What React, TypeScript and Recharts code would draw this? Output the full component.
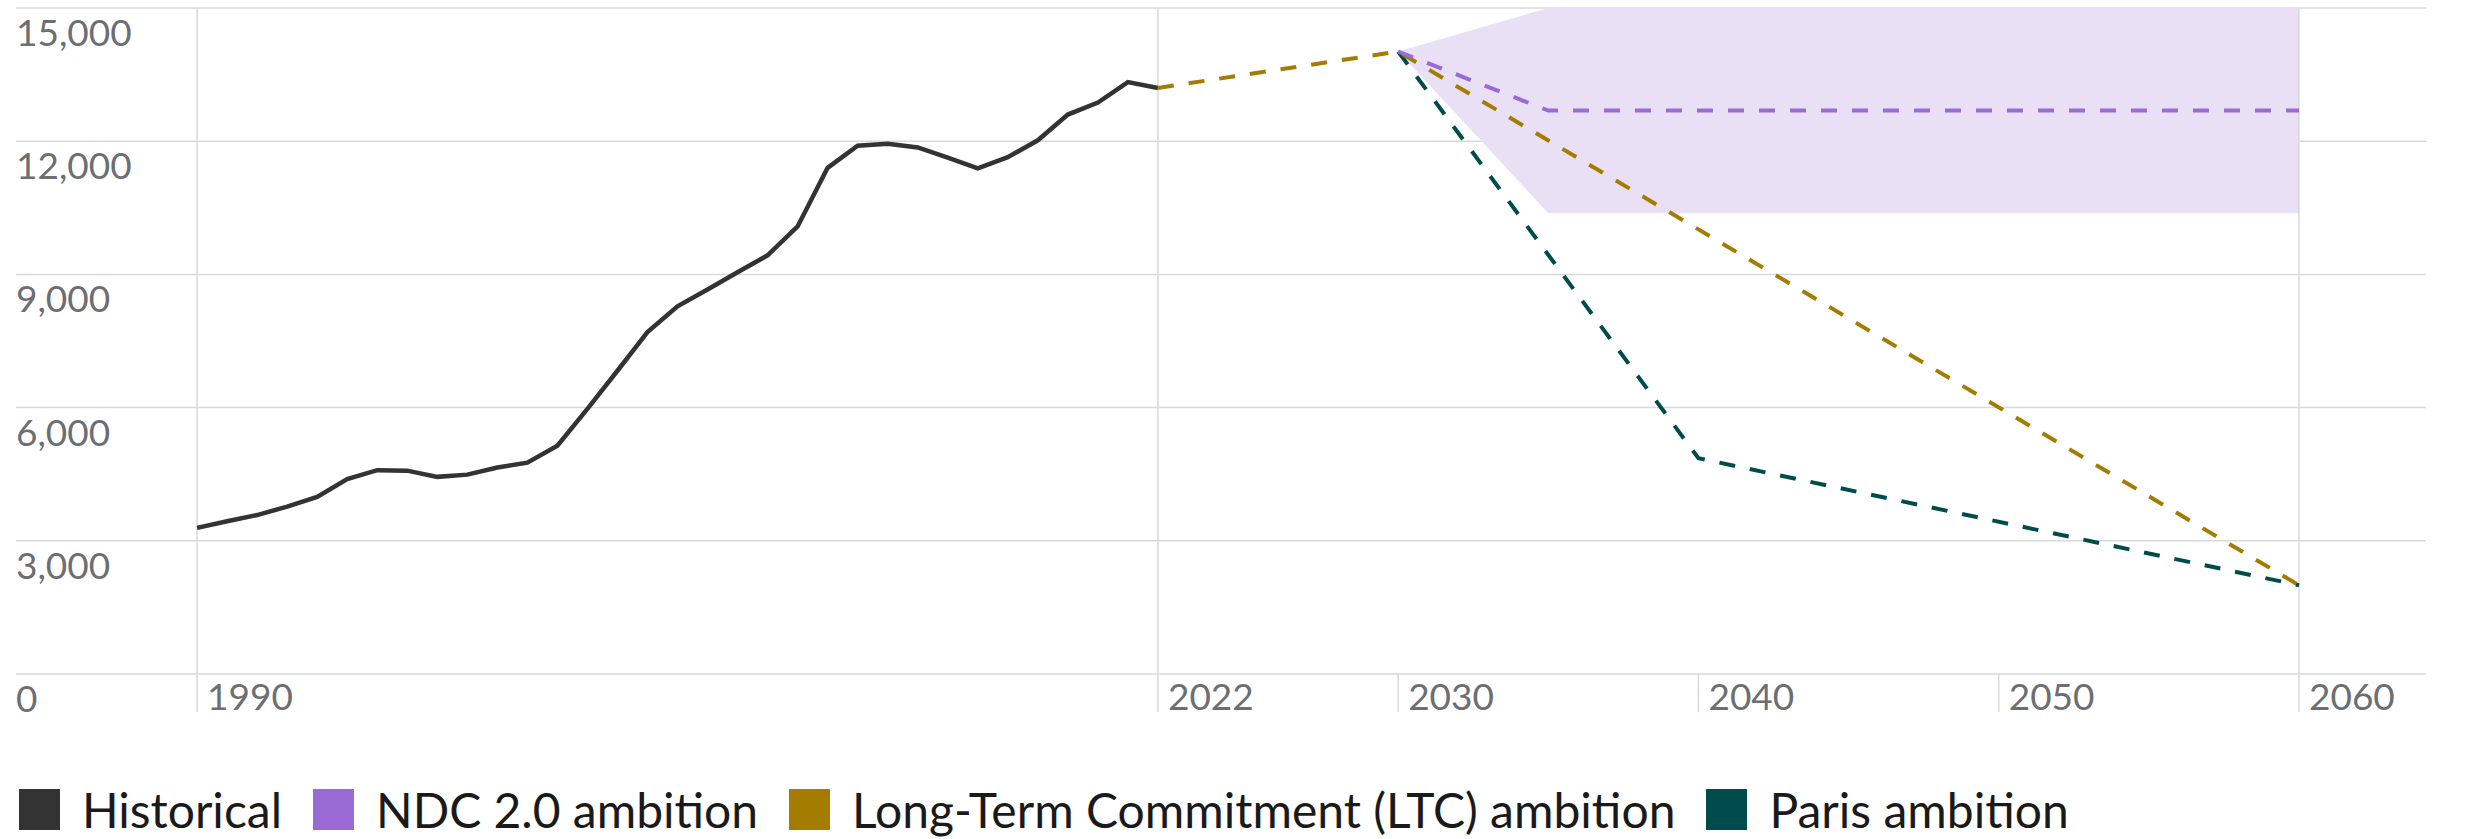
import {
  ComposedChart,
  Line,
  Area,
  XAxis,
  YAxis,
  CartesianGrid,
  ReferenceLine,
} from 'recharts';

// historical emissions, 1990-2022
const HIST_YEARS = [
  1990, 1991, 1992, 1993, 1994, 1995, 1996, 1997, 1998, 1999, 2000, 2001, 2002, 2003, 2004, 2005, 2006,
  2007, 2008, 2009, 2010, 2011, 2012, 2013, 2014, 2015, 2016, 2017, 2018, 2019, 2020, 2021, 2022,
];
const HIST_VALUES = [
  3290, 3440, 3580, 3770, 3990, 4390, 4590, 4580, 4440, 4490, 4650, 4760, 5140, 5970, 6830, 7700, 8280,
  8660, 9050, 9430, 10080, 11400, 11900, 11940, 11860, 11630, 11390, 11640, 12020, 12600, 12870, 13330,
  13200,
];

// pathways
const LTC_YEARS = [2022, 2030, 2060];
const LTC_VALUES = [13200, 14020, 2000];
const NDC_YEARS = [2030, 2035, 2060];
const NDC_VALUES = [14020, 12690, 12690];
const PARIS_YEARS = [2030, 2040, 2060];
const PARIS_VALUES = [14020, 4860, 2000];

// NDC 2.0 range
const BAND_YEARS = [2030, 2035, 2060];
const BAND_LOW = [14020, 10380, 10380];
const BAND_HIGH = [14020, 15000, 15000];

const X_TICKS = [1990, 2022, 2030, 2040, 2050, 2060];
const FULL_LINES = [1990, 2022, 2060];
const Y_TICKS = [0, 3000, 6000, 9000, 12000, 15000];

const HIST_COLOR = '#333333';
const NDC_COLOR = '#9a6bd4';
const LTC_COLOR = '#a37c00';
const PARIS_COLOR = '#004b4b';
const BAND_COLOR = '#e9e0f5';
const GRID = '#d9d9d9';
const LABEL = '#6b6f73';
const FONT = 'Lato, "Open Sans", sans-serif';

const toRows = (years: number[], values: number[]) => years.map((year, i) => ({ year, v: values[i] }));

const histData = toRows(HIST_YEARS, HIST_VALUES);
const ltcData = toRows(LTC_YEARS, LTC_VALUES);
const ndcData = toRows(NDC_YEARS, NDC_VALUES);
const parisData = toRows(PARIS_YEARS, PARIS_VALUES);
const bandData = BAND_YEARS.map((year, i) => ({ year, range: [BAND_LOW[i], BAND_HIGH[i]] }));

const LEGEND = [
  { label: 'Historical', color: HIST_COLOR },
  { label: 'NDC 2.0 ambition', color: NDC_COLOR },
  { label: 'Long-Term Commitment (LTC) ambition', color: LTC_COLOR },
  { label: 'Paris ambition', color: PARIS_COLOR },
];

function YearTick(props: any) {
  const { x, y, payload } = props;
  return (
    <g>
      <line x1={x} x2={x} y1={y} y2={y + 38} stroke={GRID} strokeWidth={1.5} />
      <text x={x + 10} y={y + 36} fill={LABEL} fontSize={37} fontFamily={FONT}>
        {payload.value}
      </text>
    </g>
  );
}

function ValueTick(props: any) {
  const { y, payload } = props;
  return (
    <text x={16} y={y + 38} fill={LABEL} fontSize={37} fontFamily={FONT}>
      {Number(payload.value).toLocaleString('en-US')}
    </text>
  );
}

const dash = { strokeWidth: 4, strokeDasharray: '16 15' };

export default function App() {
  return (
    <div style={{ position: 'relative', width: 2473, height: 839, overflow: 'hidden', background: '#fff' }}>
      <style>{'body{margin:0;overflow:hidden}'}</style>
      <ComposedChart width={2473} height={720} margin={{ top: 8, right: 47, bottom: 6, left: 15 }}>
        <CartesianGrid vertical={false} stroke={GRID} strokeWidth={1.5} />
        <XAxis
          type="number"
          dataKey="year"
          domain={[1983.97, 2064.23]}
          ticks={X_TICKS}
          interval={0}
          allowDataOverflow
          axisLine={false}
          tickLine={false}
          tickSize={0}
          tickMargin={0}
          height={40}
          tick={YearTick}
        />
        <YAxis
          type="number"
          domain={[0, 15000]}
          ticks={Y_TICKS}
          interval={0}
          allowDataOverflow
          width={1}
          axisLine={false}
          tickLine={false}
          tick={ValueTick}
        />
        <Area
          data={bandData}
          dataKey="range"
          type="linear"
          stroke="none"
          fill={BAND_COLOR}
          fillOpacity={1}
          isAnimationActive={false}
          activeDot={false}
        />
        {FULL_LINES.map((yr) => (
          <ReferenceLine key={yr} x={yr} stroke={GRID} strokeWidth={1.5} />
        ))}
        <Line
          data={histData}
          dataKey="v"
          type="linear"
          stroke={HIST_COLOR}
          strokeWidth={4.5}
          dot={false}
          activeDot={false}
          isAnimationActive={false}
        />
        <Line
          data={parisData}
          dataKey="v"
          type="linear"
          stroke={PARIS_COLOR}
          {...dash}
          dot={false}
          activeDot={false}
          isAnimationActive={false}
        />
        <Line
          data={ltcData}
          dataKey="v"
          type="linear"
          stroke={LTC_COLOR}
          {...dash}
          dot={false}
          activeDot={false}
          isAnimationActive={false}
        />
        <Line
          data={ndcData}
          dataKey="v"
          type="linear"
          stroke={NDC_COLOR}
          {...dash}
          dot={false}
          activeDot={false}
          isAnimationActive={false}
        />
      </ComposedChart>

      {/* Legend */}
      <div style={{ position: 'absolute', left: 19, top: 789, display: 'flex', gap: 31, whiteSpace: 'nowrap' }}>
        {LEGEND.map(({ label, color }) => (
          <div key={label} style={{ display: 'flex', alignItems: 'flex-start', gap: 22 }}>
            <div style={{ width: 41, height: 41, background: color }} />
            <span style={{ fontFamily: FONT, fontSize: 48, lineHeight: '41px', color: '#1a1a1a' }}>{label}</span>
          </div>
        ))}
      </div>
    </div>
  );
}
